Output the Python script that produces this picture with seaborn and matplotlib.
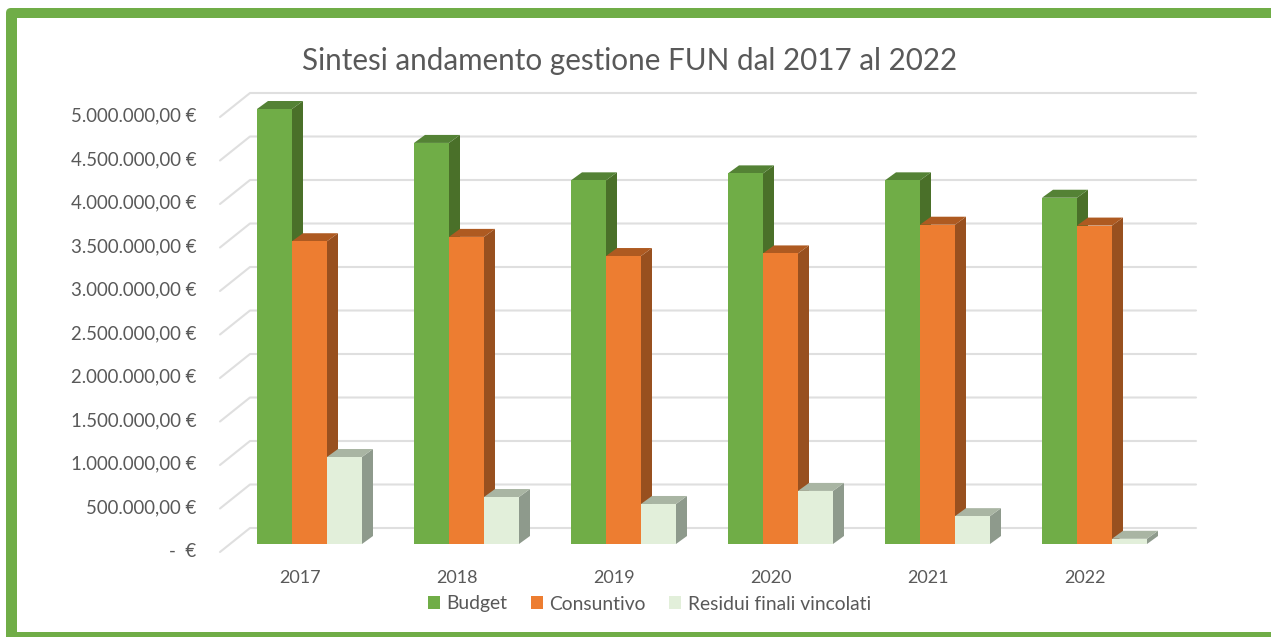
import matplotlib.pyplot as plt
import pandas as pd
import seaborn as sns
from matplotlib.patches import FancyBboxPatch, Polygon, Rectangle
from matplotlib.transforms import ScaledTranslation

YEARS = ["2017", "2018", "2019", "2020", "2021", "2022"]
BUDGET = [5000000, 4610000, 4180000, 4260000, 4180000, 3980000]
CONSUNTIVO = [3480000, 3530000, 3310000, 3340000, 3670000, 3660000]
RESIDUI = [1000000, 540000, 460000, 610000, 320000, 60000]
SERIES_NAMES = ["Budget", "Consuntivo", "Residui finali vincolati"]

Y_TICKS = [0, 500000, 1000000, 1500000, 2000000, 2500000, 3000000, 3500000, 4000000, 4500000, 5000000]
Y_LABELS = ["-  €", "500.000,00 €", "1.000.000,00 €", "1.500.000,00 €", "2.000.000,00 €", "2.500.000,00 €",
            "3.000.000,00 €", "3.500.000,00 €", "4.000.000,00 €", "4.500.000,00 €", "5.000.000,00 €"]

FRONT = ["#70AD47", "#ED7D31", "#E2EFDA"]
SIDE = ["#4A7029", "#98501F", "#8E9A8C"]
TOP = ["#548235", "#AE5A21", "#A9B5A3"]
TEXT = "#595959"
GRID = "#DFDFDF"

W, H = 1271, 637
PX_PER_CAT = 157
PX_PER_VALUE = 87 / 1e6
BASE_PX = 544

sns.set_theme(style="white")
plt.rcParams["font.family"] = ["Lato", "DejaVu Sans"]

fig = plt.figure(figsize=(W / 100, H / 100), dpi=100)

# frame, in pixel coordinates
bg = fig.add_axes([0, 0, 1, 1])
bg.set_xlim(0, W)
bg.set_ylim(H, 0)
bg.axis("off")
bg.add_patch(FancyBboxPatch((10, 12), 1400, 800, boxstyle="round,pad=4,rounding_size=5", fc=FRONT[0], ec="none"))
bg.add_patch(Rectangle((17, 18), W - 17, 614, fc="white", ec="none"))

ax = fig.add_axes([220 / W, (H - BASE_PX) / H, 946 / W, 478.5 / H])
ax.patch.set_alpha(0)

df = pd.DataFrame({"year": YEARS, SERIES_NAMES[0]: BUDGET, SERIES_NAMES[1]: CONSUNTIVO, SERIES_NAMES[2]: RESIDUI})
long_df = df.melt(id_vars="year", var_name="serie", value_name="valore")
sns.barplot(data=long_df, x="year", y="valore", hue="serie", palette=FRONT, width=105 / PX_PER_CAT,
            gap=0, saturation=1, linewidth=0, edgecolor="none", ax=ax, legend=False)

ax.set_xlim((220 - 309.5) / PX_PER_CAT, (1166 - 309.5) / PX_PER_CAT)
ax.set_ylim(0, 478.5 / PX_PER_VALUE)
ax.set_xlabel("")
ax.set_ylabel("")
sns.despine(ax=ax, left=True, bottom=True)

# depth of the bars and of the back wall, converted to data units
bar_dx, bar_dy = 11 / PX_PER_CAT, 8 / PX_PER_VALUE
xmin, xmax = ax.get_xlim()
wall_dx, wall_dy = 30 / PX_PER_CAT, 16 / PX_PER_VALUE
front_dy = 8 / PX_PER_VALUE

for v in Y_TICKS:
    ax.plot([xmin, xmin + wall_dx, xmax + wall_dx], [v - front_dy, v + wall_dy, v + wall_dy],
            color=GRID, lw=1.5, zorder=0, clip_on=False)

for i, container in enumerate(ax.containers):
    for bar in container:
        x0, w, h = bar.get_x(), bar.get_width(), bar.get_height()
        x1 = x0 + w
        bar.set_zorder(2 + 2 * i)
        ax.add_patch(Polygon([(x1, 0), (x1 + bar_dx, bar_dy), (x1 + bar_dx, h + bar_dy), (x1, h)],
                             fc=SIDE[i], ec="none", zorder=1 + 2 * i, clip_on=False))
        ax.add_patch(Polygon([(x0, h), (x0 + bar_dx, h + bar_dy), (x1 + bar_dx, h + bar_dy), (x1, h)],
                             fc=TOP[i], ec="none", zorder=1 + 2 * i, clip_on=False))

ax.set_yticks(Y_TICKS, Y_LABELS)
ax.tick_params(axis="y", length=0, pad=17, labelsize=13.4, labelcolor=TEXT)
ax.tick_params(axis="x", length=0, pad=19, labelsize=13, labelcolor=TEXT)

# labels sit a little off the front of the bars
for label in ax.get_yticklabels():
    label.set_transform(label.get_transform() + ScaledTranslation(0, -4.2 / 72, fig.dpi_scale_trans))
for label in ax.get_xticklabels():
    label.set_transform(label.get_transform() + ScaledTranslation(-9.5 * 0.72 / 72, 0, fig.dpi_scale_trans))

fig.text(630 / W, 1 - 61 / H, "Sintesi andamento gestione FUN dal 2017 al 2022", ha="center", va="center",
         fontsize=21.3, color=TEXT)

handles = [Rectangle((0, 0), 1, 1, fc=c, ec="none") for c in FRONT]
fig.legend(handles, SERIES_NAMES, ncols=3, loc="center", bbox_to_anchor=(649.5 / W, 1 - 604 / H), frameon=False,
           fontsize=13.9, labelcolor=TEXT, handlelength=0.62, handleheight=0.62, handletextpad=0.35, columnspacing=1.2)

fig.savefig("out.png", dpi=100)
